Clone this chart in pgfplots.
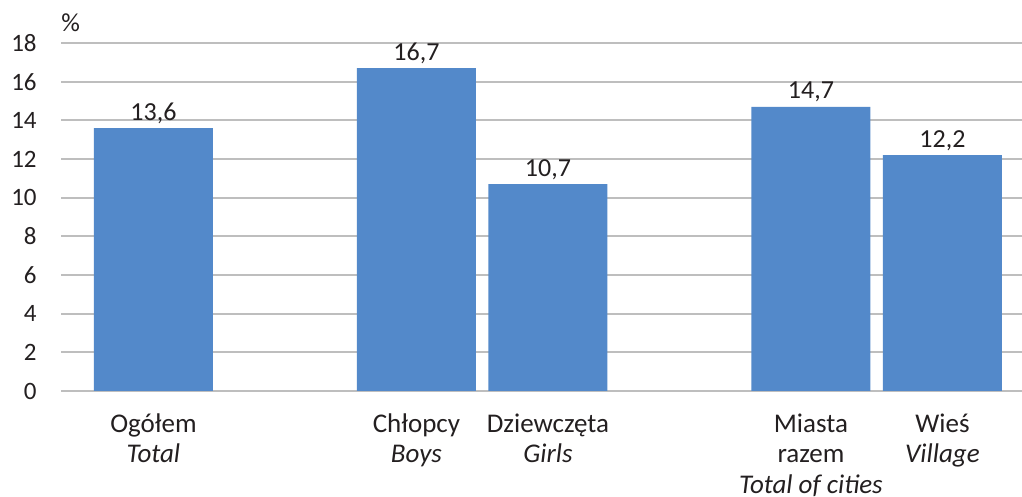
\documentclass[border=0pt]{standalone}
\usepackage{fontspec}
\setmainfont{Carlito}
\usepackage{pgfplots}
\pgfplotsset{compat=1.18}
\definecolor{barblue}{RGB}{83,137,202}
\definecolor{gridgray}{RGB}{190,190,190}
\definecolor{txt}{RGB}{35,31,32}
\newcommand{\lbl}{\fontsize{13.5}{15.2}\selectfont}
\newcommand{\val}{\fontsize{13}{15}\selectfont}
\newcommand{\tck}{\fontsize{12.5}{15}\selectfont}
\begin{document}
\begin{tikzpicture}
\begin{axis}[
  scale only axis,
  width=480.5pt, height=174pt,
  xmin=-0.703, xmax=6.605,
  ymin=0, ymax=18,
  ytick={0,2,...,18},
  xtick={0,2,3,5,6},
  xticklabels={{\strut Ogółem\\\textit{Total}},{\strut Chłopcy\\\textit{Boys}},{\strut Dziewczęta\\\textit{Girls}},{\strut Miasta\\razem\\\textit{Total of cities}},{\strut Wieś\\\textit{Village}}},
  axis line style={draw=none},
  major tick length=0pt,
  ymajorgrids, grid style={gridgray, line width=1pt},
  ybar, bar width=0.905,
  /pgf/number format/assume math mode=true,
  yticklabel style={font=\tck, text=txt, anchor=east, inner sep=0pt, xshift=-12pt},
  xticklabel style={font=\lbl, text=txt, align=center, anchor=north, inner sep=0pt, yshift=-9.8pt},
  nodes near coords={\pgfmathprintnumber[use comma,fixed,fixed zerofill,precision=1]{\pgfplotspointmeta}},
  nodes near coords style={font=\val, text=txt, anchor=base, inner sep=0pt, yshift=4pt},
  clip=false,
]
\addplot[fill=barblue, draw=none] coordinates {(0,13.6) (2,16.7) (3,10.7) (5,14.7) (6,12.2)};
\coordinate (ll) at (rel axis cs:0,0);
\coordinate (ur) at (rel axis cs:1,1);
\node[anchor=base west, inner sep=0pt, font=\val, text=txt] at ([yshift=5.5pt]rel axis cs:0,1) {\%};
\end{axis}
\pgfresetboundingbox
\useasboundingbox ([xshift=-30.5pt,yshift=-53pt]ll) rectangle ([yshift=21.5pt]ur);
\end{tikzpicture}
\end{document}
